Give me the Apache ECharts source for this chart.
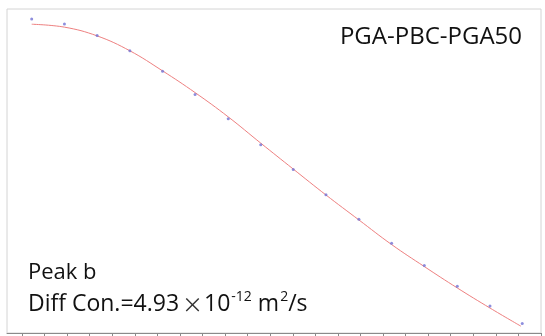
<!DOCTYPE html>
<html>
<head>
<meta charset="utf-8">
<script src="https://cdn.jsdelivr.net/npm/echarts@6/dist/echarts.min.js"></script>
<style>
html,body{margin:0;padding:0;background:#fff;}
#chart{width:545px;height:336px;}
</style>
</head>
<body>
<div id="chart"></div>
<script>
// Measured data points (x in tick units, y normalised intensity)
const pointX = [0.43, 1.88, 3.33, 4.78, 6.23, 7.67, 9.14, 10.58, 12.02, 13.47, 14.93, 16.38, 17.83, 19.29, 20.74, 22.17];
const pointY = [0.969, 0.954, 0.918, 0.871, 0.808, 0.736, 0.661, 0.581, 0.505, 0.427, 0.351, 0.277, 0.208, 0.144, 0.083, 0.029];
// Fitted curve, read at the same abscissae
const fitX = [0.43, 1.88, 3.33, 4.78, 6.23, 7.67, 9.14, 10.58, 12.02, 13.47, 14.93, 16.38, 17.83, 19.29, 20.74, 22.11];
const fitY = [0.953, 0.944, 0.917, 0.871, 0.809, 0.742, 0.667, 0.586, 0.506, 0.426, 0.349, 0.273, 0.205, 0.139, 0.077, 0.021];
const tickValues = [0,1,2,3,4,5,6,7,8,9,10,11,12,13,14,15,16,17,18,19,20,21,22,23];
const sampleName = 'PGA-PBC-PGA50';
const peakName = 'Peak b';

const chart = echarts.init(document.getElementById('chart'), null, {renderer: 'canvas'});
const pts = pointX.map((x, i) => [x, pointY[i]]);
const fit = fitX.map((x, i) => [x, fitY[i]]);

chart.setOption({
  animation: false,
  backgroundColor: '#ffffff',
  grid: {left: 7, right: 4, top: 9, bottom: 3, show: true, borderColor: '#d4d4d4', borderWidth: 1, backgroundColor: 'transparent'},
  xAxis: {
    type: 'value', min: -0.665, max: 23,
    axisLine: {show: true, lineStyle: {color: '#8a8a8a', width: 1}},
    axisTick: {show: true, length: 4, customValues: tickValues, lineStyle: {color: '#8a8a8a'}},
    axisLabel: {show: false},
    splitLine: {show: false}
  },
  yAxis: {
    type: 'value', min: 0, max: 1, show: false, splitLine: {show: false}
  },
  series: [
    {type: 'line', data: fit, smooth: 0.4, showSymbol: false, symbol: 'none',
     lineStyle: {color: '#ee8080', width: 1}, z: 2},
    {type: 'scatter', data: pts, symbol: 'circle', symbolSize: 3,
     itemStyle: {color: '#7272d4'}, z: 3}
  ],
  graphic: [
    {type: 'text', right: 23, top: 25, style: {text: sampleName, font: '24px "Open Sans"', fill: '#111'}},
    {type: 'text', left: 28, top: 262, style: {text: peakName, font: '22px "Open Sans"', fill: '#111'}},
    {type: 'text', left: 28, top: 287, style: {
      text: '{n|Diff Con.=4.93}{x|×}{n|10}{s|-12}{n| m}{s|2}{n|/s}',
      rich: {
        n: {fontFamily: 'Open Sans', fontSize: 23, fill: '#111', lineHeight: 29, verticalAlign: 'bottom'},
        x: {fontFamily: 'Noto Sans CJK JP', fontSize: 21, fill: '#333', lineHeight: 29, verticalAlign: 'bottom', padding: [0, 1, 1, 3]},
        s: {fontFamily: 'Open Sans', fontSize: 14, fill: '#111', lineHeight: 29, verticalAlign: 'top', padding: [3, 0, 0, 1]}
      }
    }}
  ]
});
</script>
</body>
</html>
